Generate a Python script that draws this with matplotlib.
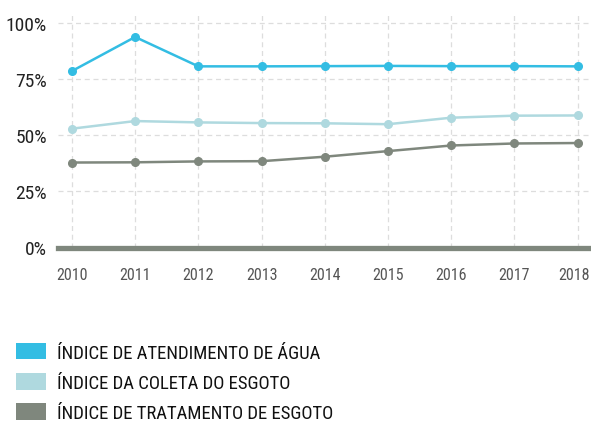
import matplotlib
matplotlib.use('Agg')
import matplotlib.pyplot as plt
import matplotlib.transforms as mtransforms
from matplotlib import font_manager
from matplotlib.patches import Patch

# pick a narrow face if one is installed
narrow = 'DejaVu Sans'
for name in ['Roboto Condensed', 'Liberation Sans Narrow', 'DejaVu Sans Condensed']:
    try:
        font_manager.findfont(name, fallback_to_default=False)
        narrow = name
        break
    except ValueError:
        pass

plt.rcParams['font.family'] = [narrow, 'DejaVu Sans']

years = [2010, 2011, 2012, 2013, 2014, 2015, 2016, 2017, 2018]
agua = [78.7, 93.9, 80.8, 80.8, 80.9, 81.0, 80.9, 80.9, 80.8]
coleta = [53.0, 56.4, 55.8, 55.5, 55.4, 55.0, 57.9, 58.8, 58.9]
tratamento = [37.9, 38.0, 38.4, 38.5, 40.5, 43.0, 45.5, 46.4, 46.6]

series_names = ['ÍNDICE DE ATENDIMENTO DE ÁGUA', 'ÍNDICE DA COLETA DO ESGOTO', 'ÍNDICE DE TRATAMENTO DE ESGOTO']
colors = ['#33bde3', '#afd9df', '#7f877d']
ytick_vals = [0, 25, 50, 75, 100]
ytick_labels = ['0%', '25%', '50%', '75%', '100%']

fig = plt.figure(figsize=(5.91, 4.27), dpi=100)
ax = fig.add_axes([58 / 591, 1 - 248.5 / 427, 1 - 58 / 591, (248.5 - 14) / 427])

for vals, c in zip([agua, coleta, tratamento], colors):
    ax.plot(years, vals, color=c, lw=1.8, marker='o', ms=5.5, zorder=3)

ax.set_xlim(2009.78, 2018.21)
ax.set_ylim(0, 104.6)
ax.set_xticks(years)
ax.set_xticklabels([str(y) for y in years], color='#555555', fontsize=11.5)
ax.set_yticks(ytick_vals)
ax.set_yticklabels(ytick_labels, color='#222222', fontsize=14)
ax.tick_params(length=0)
ax.tick_params(axis='x', pad=14)
ax.tick_params(axis='y', pad=8)

# nudge the last year label left so it stays on the canvas
last = ax.get_xticklabels()[-1]
last.set_transform(last.get_transform() + mtransforms.ScaledTranslation(-4 / 100, 0, fig.dpi_scale_trans))

ax.grid(True, color='#dddddd', ls=(0, (4, 3)), lw=0.9)
ax.set_axisbelow(True)
for s in ['top', 'right', 'left']:
    ax.spines[s].set_visible(False)
ax.spines['bottom'].set_color('#7f877d')
ax.spines['bottom'].set_linewidth(3.8)
ax.spines['bottom'].set_zorder(4)

handles = [Patch(facecolor=c, edgecolor='none') for c in colors]
fig.legend(handles, series_names, loc='upper left', bbox_to_anchor=(16 / 591, 1 - 344 / 427),
           frameon=False, fontsize=13.5, handlelength=1.6, handleheight=0.96,
           handletextpad=0.59, labelspacing=0.62, borderpad=0, borderaxespad=0,
           labelcolor='#111111')

fig.savefig('out.png', dpi=100)
